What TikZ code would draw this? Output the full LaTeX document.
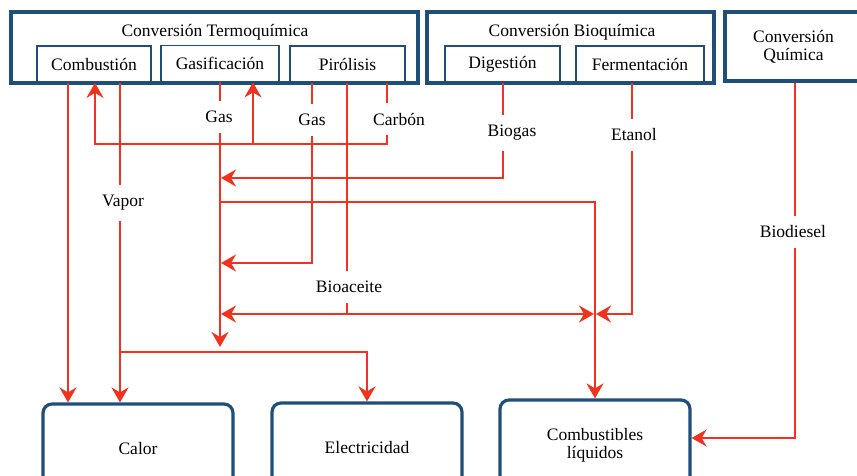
\documentclass[tikz,border=0pt]{standalone}
\usepackage{fontspec}
\setmainfont{Liberation Serif}
\usetikzlibrary{arrows.meta}

\definecolor{boxblue}{RGB}{31,78,121}
\definecolor{flowred}{RGB}{240,50,30}

\begin{document}
\begin{tikzpicture}[x=1pt,y=-1pt,>={Stealth[length=15pt,width=17pt,inset=5pt]},
  font=\fontsize{17.5}{20}\selectfont,
  group/.style={draw=boxblue,line width=3.2pt,minimum height=71pt,inner sep=0pt,align=center},
  sub/.style={draw=boxblue,line width=1.8pt,fill=white,minimum height=36pt,inner sep=0pt},
  sink/.style={draw=boxblue,line width=3.2pt,rounded corners=9pt,minimum width=190pt,minimum height=90pt,align=center},
  flow/.style={draw=flowred,line width=2.2pt},
  tag/.style={fill=white,inner xsep=4pt,inner ysep=10pt}]
\useasboundingbox (0,0) rectangle (857,475);

% conversion groups
\node[group,minimum width=407pt] (termo) at (214.5,47.5) {};
\node (termoT) at (215,32) {Conversión Termoquímica};
\node[sub,minimum width=114pt] (comb) at (94,64) {Combustión};
\node[sub,minimum width=118pt] (gasi) at (220,63.5) {Gasificación};
\node[sub,minimum width=115pt] (pir) at (347.5,64) {Pirólisis};
\node[group,minimum width=287pt] (bio) at (570.5,47.5) {};
\node (bioT) at (572,32) {Conversión Bioquímica};
\node[sub,minimum width=115pt] (dig) at (502.5,64) {Digestión};
\node[sub,minimum width=128pt] (ferm) at (640,64) {Fermentación};
\node[group,minimum width=137pt,minimum height=69pt] (quim) at (793.5,46.5) {Conversión\\[-2pt]Química};

% products
\node[sink] (calor) at (138,449) {Calor};
\node[sink] (elec) at (367,448) {Electricidad};
\node[sink] (liq) at (595,445) {Combustibles\\[-2pt]líquidos};

% x positions and y levels of the flows
\coordinate (xHeat) at (68,0);
\coordinate (xVap) at (120,0);
\coordinate (xRec) at (95,0);
\coordinate (xRecG) at (253,0);
\coordinate (xGas) at (220,0);
\coordinate (xPgas) at (312,0);
\coordinate (xOil) at (347,0);
\coordinate (xChar) at (387,0);
\coordinate (xBiog) at (503,0);
\coordinate (xLiq) at (595,0);
\coordinate (xEtoh) at (632,0);
\coordinate (xDies) at (795,0);
\coordinate (yRec) at (0,144);
\coordinate (yBiog) at (0,178);
\coordinate (ySyn) at (0,202);
\coordinate (yPgas) at (0,263);
\coordinate (yOil) at (0,314);
\coordinate (yGasEnd) at (0,347);
\coordinate (yElec) at (0,352);
\coordinate (yDies) at (0,438);

% flows
\draw[flow,->] (xHeat |- comb.south) -- (xHeat |- calor.north);
\draw[flow,->] (xVap |- comb.south) -- (xVap |- calor.north);
\draw[flow,->] (xVap |- yElec) -| (elec.north);
\draw[flow,->] (xChar |- pir.south) -- (xChar |- yRec) -| (xRec |- comb.south);
\draw[flow,->] (xRecG |- yRec) -- (xRecG |- gasi.south);
\draw[flow,->] (xGas |- gasi.south) -- (xGas |- yGasEnd);
\draw[flow,->] (xPgas |- pir.south) |- ([xshift=1pt]xGas |- yPgas);
\draw[flow] (xOil |- pir.south) -- (xOil |- yOil);
\draw[flow,<->] ([xshift=1pt]xGas |- yOil) -- ([xshift=-1pt]xLiq |- yOil);
\draw[flow,->] (xBiog |- dig.south) |- ([xshift=1pt]xGas |- yBiog);
\draw[flow,->] (xGas |- ySyn) -| (liq.north);
\draw[flow,->] (xEtoh |- ferm.south) |- ([xshift=1pt]xLiq |- yOil);
\draw[flow,->] (xDies |- quim.south) |- (liq.east |- yDies);

% flow labels
\node[tag] (lGas) at (219,117) {Gas};
\node[tag] (lPgas) at (312,120) {Gas};
\node[tag] (lChar) at (399,119) {Carbón};
\node[tag] (lVap) at (123,203) {Vapor};
\node[tag] (lOil) at (349,287) {Bioaceite};
\node[tag] (lBiog) at (512,133) {Biogas};
\node[tag] (lEtoh) at (634,135) {Etanol};
\node[tag] (lDies) at (793,232) {Biodiesel};
\end{tikzpicture}
\end{document}
